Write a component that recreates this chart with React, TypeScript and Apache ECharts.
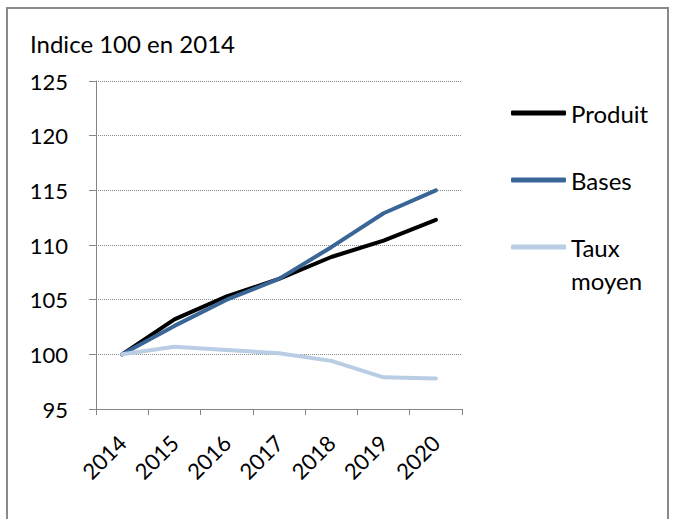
import React, { useEffect, useRef } from "react";
import * as echarts from "echarts";

const years = ["2014", "2015", "2016", "2017", "2018", "2019", "2020"];
const produit = [100, 103.2, 105.3, 106.9, 108.9, 110.4, 112.3];
const bases = [100, 102.6, 105.0, 106.9, 109.8, 112.9, 115.0];
const tauxMoyen = [100, 100.7, 100.4, 100.1, 99.4, 97.9, 97.8];
const titleText = "Indice 100 en 2014";

const FONT = "Lato, 'Liberation Sans', sans-serif";
const AXIS = "#868686";

export default function App() {
  const ref = useRef<HTMLDivElement>(null);
  useEffect(() => {
    if (!ref.current) return;
    const chart = echarts.init(ref.current, undefined, { renderer: "svg" });
    const lineSeries = (name: string, data: number[], color: string) => ({
      name,
      type: "line",
      data,
      symbol: "none",
      lineStyle: { color, width: 4, cap: "round", join: "round" },
      itemStyle: { color },
    });
    const legendBase = {
      orient: "vertical",
      left: 511,
      padding: 0,
      icon: "roundRect",
      itemWidth: 55,
      itemHeight: 5,
      itemGap: 0,
      selectedMode: false,
      textStyle: { fontFamily: FONT, fontSize: 24, color: "#000", lineHeight: 24 },
    };
    chart.setOption({
      animation: false,
      backgroundColor: "#fff",
      title: {
        text: titleText,
        left: 30,
        top: 31,
        padding: 0,
        textStyle: { fontFamily: FONT, fontSize: 24, fontWeight: "normal", color: "#000" },
      },
      grid: { left: 96, right: 213, top: 81, bottom: 110 },
      legend: [
        { ...legendBase, data: ["Produit"], top: 101 },
        { ...legendBase, data: ["Bases"], top: 168 },
        {
          ...legendBase,
          data: ["Taux moyen"],
          top: 197.5,
          formatter: () => " \nTaux\nmoyen",
          textStyle: { ...legendBase.textStyle, lineHeight: 33 },
        },
      ],
      xAxis: {
        type: "category",
        data: years,
        boundaryGap: true,
        axisLine: { lineStyle: { color: AXIS, width: 1 } },
        axisTick: { show: true, length: 6, lineStyle: { color: AXIS } },
        axisLabel: { rotate: 45, margin: 30, fontFamily: FONT, fontSize: 22, color: "#000" },
        splitLine: { show: false },
      },
      yAxis: {
        type: "value",
        min: 95,
        max: 125,
        interval: 5,
        axisLine: { show: true, lineStyle: { color: AXIS, width: 1 } },
        axisTick: { show: true, length: 7, lineStyle: { color: AXIS } },
        axisLabel: { margin: 28, fontFamily: FONT, fontSize: 22, color: "#000" },
        splitLine: { show: true, lineStyle: { color: "#8a8a8a", type: "dotted", width: 1 } },
      },
      series: [
        lineSeries("Produit", produit, "#000000"),
        lineSeries("Bases", bases, "#3A6597"),
        lineSeries("Taux moyen", tauxMoyen, "#B9CDE5"),
      ],
      graphic: [
        {
          type: "rect",
          silent: true,
          shape: { x: 7, y: 8, width: 661, height: 530 },
          style: { fill: "none", stroke: "#898989", lineWidth: 2 },
          z: 100,
        },
      ],
    });
    return () => chart.dispose();
  }, []);
  return (
    <div
      ref={ref}
      style={{ position: "absolute", left: 0, top: 0, width: 675, height: 519 }}
    />
  );
}
